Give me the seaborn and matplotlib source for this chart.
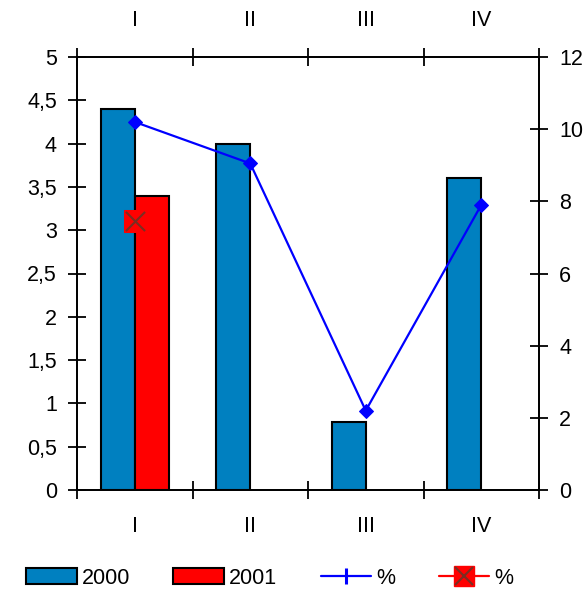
import numpy as np
import pandas as pd
import matplotlib
matplotlib.use("Agg")
import matplotlib.pyplot as plt
from matplotlib.lines import Line2D
from matplotlib.patches import Patch
from matplotlib.legend_handler import HandlerTuple
import seaborn as sns

# Quarter labels and series values
quarters = ["I", "II", "III", "IV"]
sales_2000 = [4.4, 4.0, 0.78, 3.6]
sales_2001 = [3.4, np.nan, np.nan, np.nan]
pct_2000 = [10.2, 9.05, 2.2, 7.9]
pct_2001 = [7.45, np.nan, np.nan, np.nan]
years = ["2000", "2001"]
left_ticks = [0, 0.5, 1, 1.5, 2, 2.5, 3, 3.5, 4, 4.5, 5]
left_tick_labels = ["0", "0,5", "1", "1,5", "2", "2,5", "3", "3,5", "4", "4,5", "5"]
right_ticks = [0, 2, 4, 6, 8, 10, 12]

sns.set_style("white")
plt.rcParams["font.family"] = ["Liberation Sans", "DejaVu Sans"]
FS = 15.5
plt.rcParams.update({
    "font.size": FS,
    "text.color": "black",
    "xtick.color": "black",
    "ytick.color": "black",
    "axes.labelcolor": "black",
})

BLUE_BAR = "#0080C0"
RED_BAR = "#FF0000"
LINE_BLUE = "#0000FF"
CROSS = "#7A2E22"

df = pd.DataFrame({
    "quarter": quarters * 2,
    "year": [years[0]] * len(quarters) + [years[1]] * len(quarters),
    "value": sales_2000 + sales_2001,
})

fig = plt.figure(figsize=(5.88, 5.90), dpi=100)
ax = fig.add_axes([77 / 588, 1 - 490 / 590, (539 - 77) / 588, (490 - 57) / 590])

sns.barplot(data=df, x="quarter", y="value", hue="year", order=quarters,
            hue_order=years, palette=[BLUE_BAR, RED_BAR], width=0.59,
            saturation=1, edgecolor="black", linewidth=1.5, legend=False,
            ax=ax)

ax.set_xlim(-0.5, len(quarters) - 0.5)
ax.set_ylim(0, 5)
ax.set_yticks(left_ticks)
ax.set_yticklabels(left_tick_labels)
ax.set_xlabel("")
ax.set_ylabel("")

# Category labels above and below, tick marks between categories
ax.set_xticks(range(len(quarters)))
ax.set_xticklabels(quarters)
ax.set_xticks(np.arange(-0.5, len(quarters), 1.0), minor=True)
ax.tick_params(axis="x", which="major", length=0, top=True, labeltop=True,
               bottom=True, labelbottom=True, labelsize=FS, pad=18.5,
               labelcolor="black")
ax.tick_params(axis="x", which="minor", direction="inout", length=13,
               width=1.3, top=True, bottom=True, color="black")
ax.tick_params(axis="y", which="major", direction="inout", length=13,
               width=1.3, left=True, color="black", pad=8, labelsize=FS,
               labelcolor="black")
for s in ax.spines.values():
    s.set_visible(True)
    s.set_color("black")
    s.set_linewidth(1.3)

# Percentage series on the right axis
ax2 = ax.twinx()
xpos = np.arange(len(quarters))
sns.lineplot(x=xpos, y=pct_2000, ax=ax2, color=LINE_BLUE, linewidth=1.6,
             marker="D", markersize=7.5, markeredgecolor=LINE_BLUE)
sns.lineplot(x=xpos, y=pct_2001, ax=ax2, color=RED_BAR, linewidth=1.6,
             marker="s", markersize=16, markeredgecolor=RED_BAR)
sns.scatterplot(x=xpos, y=pct_2001, ax=ax2, marker="x", s=190,
                color=CROSS, linewidth=1.5, zorder=5)
ax2.set_ylim(0, 12)
ax2.set_xlim(-0.5, len(quarters) - 0.5)
ax2.set_yticks(right_ticks)
ax2.set_yticklabels([str(t) for t in right_ticks])
ax2.set_ylabel("")
ax2.tick_params(axis="y", which="major", direction="inout", length=13,
                width=1.3, right=True, color="black", pad=8, labelsize=FS,
                labelcolor="black")
for s in ax2.spines.values():
    s.set_color("black")
    s.set_linewidth(1.3)

handles = [
    Patch(facecolor=BLUE_BAR, edgecolor="black", linewidth=1.5),
    Patch(facecolor=RED_BAR, edgecolor="black", linewidth=1.5),
    Line2D([], [], color=LINE_BLUE, linewidth=1.6, marker="|",
           markersize=11, markeredgewidth=2.2),
    (Line2D([], [], color=RED_BAR, linewidth=1.6, marker="s",
            markersize=15, markeredgecolor=RED_BAR),
     Line2D([], [], linestyle="none", marker="x", color=CROSS,
            markersize=13, markeredgewidth=1.5)),
]
fig.legend(handles, ["2000", "2001", "%", "%"], loc="center left",
           bbox_to_anchor=(26 / 588, 1 - 578 / 590), ncol=4, frameon=False,
           borderpad=0, borderaxespad=0,
           handlelength=2.35, handleheight=0.74, handletextpad=0.25,
           columnspacing=2.0, fontsize=FS, labelcolor="black",
           handler_map={tuple: HandlerTuple(ndivide=1, pad=0)})

fig.savefig("out.png", dpi=100)
